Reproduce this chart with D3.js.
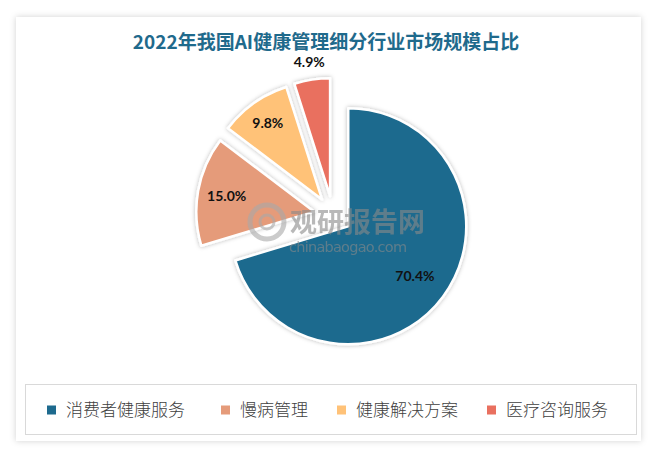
<!DOCTYPE html>
<html><head><meta charset="utf-8">
<script src="https://cdn.jsdelivr.net/npm/d3@7"></script>
<style>
html,body{margin:0;padding:0;background:#fff;}
svg{display:block;}
</style></head>
<body>
<svg id="c" width="658" height="456"></svg>
<script>
const categories = ["消费者健康服务", "慢病管理", "健康解决方案", "医疗咨询服务"];
const values = [70.4, 15.0, 9.8, 4.9];
const valueLabels = ["70.4%", "15.0%", "9.8%", "4.9%"];
const colors = ["#1D6A8E", "#E59B7A", "#FFC278", "#E9705F"];
const title = "2022年我国AI健康管理细分行业市场规模占比";

const svg = d3.select("#c");
const defs = svg.append("defs");
const f1 = defs.append("filter").attr("id","card").attr("x","-5%").attr("y","-5%").attr("width","110%").attr("height","110%");
f1.append("feDropShadow").attr("dx",0).attr("dy",0).attr("stdDeviation",3).attr("flood-color","#000").attr("flood-opacity",0.18);
const f2 = defs.append("filter").attr("id","sh").attr("x","-20%").attr("y","-20%").attr("width","140%").attr("height","140%");
f2.append("feDropShadow").attr("dx",0).attr("dy",0).attr("stdDeviation",2.2).attr("flood-color","#000").attr("flood-opacity",0.28);

// card
svg.append("rect").attr("x",16).attr("y",17).attr("width",625).attr("height",424)
  .attr("fill","#fff").attr("filter","url(#card)");

// title
svg.append("text").attr("x",326).attr("y",49).attr("text-anchor","middle")
  .attr("font-family","'Noto Sans CJK SC', sans-serif").attr("font-weight","bold")
  .attr("font-size",19).attr("fill","#1F6A8C").text(title);

// pie
const cx = 333, cy = 215, R = 118, explode = 19;
const pie = d3.pie().sort(null).value(d => d)(values);
const arc = d3.arc().innerRadius(0).outerRadius(R);
const labelR = [83, 89, 94, 136];
const g = svg.append("g").attr("transform", `translate(${cx},${cy})`);

const slices = g.selectAll("g.s").data(pie).join("g").attr("class","s")
  .attr("transform", d => {
    const m = (d.startAngle + d.endAngle) / 2;
    return `translate(${explode*Math.sin(m)},${-explode*Math.cos(m)})`;
  });
slices.append("path").attr("d", arc).attr("fill", (d,i) => colors[i])
  .attr("stroke","#fff").attr("stroke-width",2.5).attr("stroke-linejoin","round")
  .attr("filter","url(#sh)");

// watermark
const wm = svg.append("g").attr("opacity",0.6);
wm.append("circle").attr("cx",267).attr("cy",222).attr("r",17).attr("fill","none").attr("stroke","#a9a9a9").attr("stroke-width",5);
wm.append("circle").attr("cx",267).attr("cy",222).attr("r",7).attr("fill","none").attr("stroke","#a9a9a9").attr("stroke-width",3);
wm.append("text").attr("x",290).attr("y",232).attr("font-family","'Noto Sans CJK SC', sans-serif")
  .attr("font-weight","bold").attr("font-size",27).attr("fill","#8a8a8a").text("观研报告网");
wm.append("text").attr("x",289).attr("y",252).attr("font-family","'DejaVu Sans', sans-serif")
  .attr("font-size",14.5).attr("fill","#8a8a8a").attr("textLength",118).text("chinabaogao.com");

// labels
slices.append("text")
  .attr("transform", (d,i) => {
    const a = d3.arc().innerRadius(labelR[i]).outerRadius(labelR[i]);
    return `translate(${a.centroid(d)})`;
  })
  .attr("text-anchor","middle").attr("dy","0.35em")
  .attr("font-family","Lato, 'Open Sans', sans-serif").attr("font-weight","bold")
  .attr("font-size",14).attr("fill","#111")
  .text((d,i) => valueLabels[i]);

// legend
svg.append("rect").attr("x",25.5).attr("y",384.5).attr("width",611).attr("height",50)
  .attr("fill","#fff").attr("stroke","#d9d9d9").attr("stroke-width",1);
const legX = [47, 221, 337, 487];
const lg = svg.append("g").selectAll("g").data(categories).join("g")
  .attr("transform",(d,i)=>`translate(${legX[i]},410)`);
lg.append("rect").attr("x",0).attr("y",-4.5).attr("width",9).attr("height",9).attr("fill",(d,i)=>colors[i]);
lg.append("text").attr("x",19).attr("dy","0.36em")
  .attr("font-family","'Noto Sans CJK SC', sans-serif").attr("font-weight",300)
  .attr("font-size",17).attr("fill","#404040").text(d=>d);
</script>
</body></html>
